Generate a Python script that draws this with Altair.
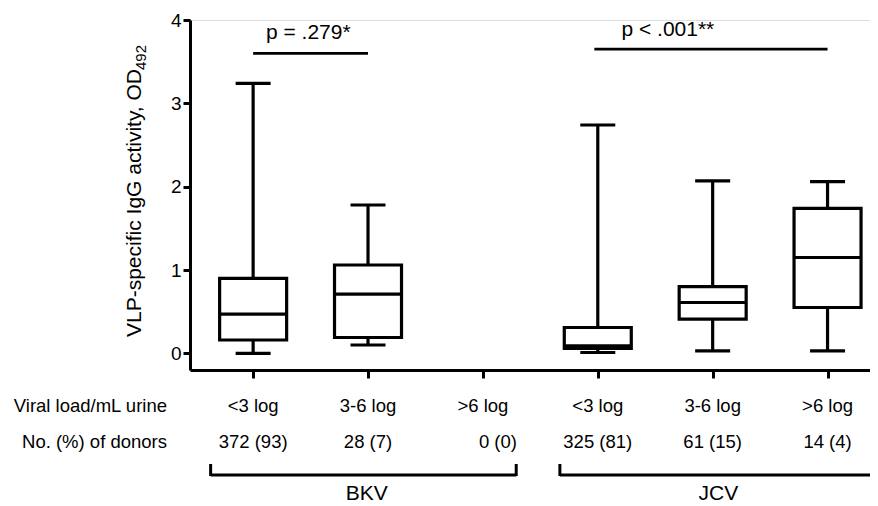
import altair as alt
import pandas as pd

FONT = "Liberation Sans"

# ---- data ----
virus = ["BKV", "BKV", "BKV", "JCV", "JCV", "JCV"]
load = ["<3 log", "3-6 log", ">6 log", "<3 log", "3-6 log", ">6 log"]
donors = ["372 (93)", "28 (7)", "0 (0)", "325 (81)", "61 (15)", "14 (4)"]
pos = [1, 2, 3, 4, 5, 6]

# box statistics (no box where there are no donors)
box_pos = [1, 2, 4, 5, 6]
w_min = [0.00, 0.10, 0.01, 0.03, 0.03]
q1 = [0.16, 0.19, 0.06, 0.41, 0.55]
med = [0.47, 0.71, 0.09, 0.61, 1.15]
q3 = [0.90, 1.06, 0.31, 0.80, 1.74]
w_max = [3.24, 1.78, 2.74, 2.07, 2.06]

# significance annotations
sig_x1 = [1, 3.97]
sig_x2 = [2, 6]
sig_y = [3.60, 3.65]
sig_text = ["p = .279*", "p < .001**"]
sig_tx = [1.48, 4.61]
sig_ty = [3.84, 3.88]

# group brackets
grp_name = ["BKV", "JCV"]
grp_x1 = [0.63, 3.67]
grp_x2 = [3.29, 6.40]
grp_tx = [1.99, 5.05]

row_titles = ["Viral load/mL urine", "No. (%) of donors"]
y_title_main = "VLP-specific IgG activity, OD"
y_title_sub = "492"

boxes = pd.DataFrame(dict(pos=box_pos, lo=w_min, q1=q1, med=med, q3=q3, hi=w_max))
cats = pd.DataFrame(dict(pos=pos, virus=virus, load=load, donors=donors))
sig = pd.DataFrame(dict(x1=sig_x1, x2=sig_x2, y=sig_y, text=sig_text, tx=sig_tx, ty=sig_ty))
grp = pd.DataFrame(dict(name=grp_name, x1=grp_x1, x2=grp_x2, tx=grp_tx))
rows = pd.DataFrame(dict(t=row_titles, r=[0, 1]))
ttl = pd.DataFrame(dict(main=[y_title_main], sub=[y_title_sub]))

xs = alt.Scale(domain=[0.494, 6.326], nice=False, zero=False)
ys = alt.Scale(domain=[-0.2, 4], nice=False, zero=False)

X = alt.X("pos:Q", scale=xs,
          axis=alt.Axis(values=pos, labels=False, title=None, grid=False,
                        tickSize=8, tickWidth=3, domainWidth=3,
                        domainColor="black", tickColor="black"))

base = alt.Chart(boxes)

whisk_lo = base.mark_rule(color="black", strokeWidth=3.2).encode(
    x=X,
    y=alt.Y("lo:Q", scale=ys,
            axis=alt.Axis(values=[0, 1, 2, 3, 4], format="d", grid=False, tickSize=7,
                          tickWidth=3, domainWidth=3, domainColor="black",
                          tickColor="black", labelFontSize=19, labelColor="black",
                          labelFont=FONT, labelPadding=2, title=None)),
    y2="q1:Q")
whisk_hi = base.mark_rule(color="black", strokeWidth=3.2).encode(
    x="pos:Q", y="q3:Q", y2="hi:Q")
box = base.mark_bar(fill="white", stroke="black", strokeWidth=3.2, size=67, opacity=1).encode(
    x="pos:Q", y="q1:Q", y2="q3:Q")
median = base.mark_tick(color="black", orient="horizontal", size=67, thickness=3.2,
                        opacity=1).encode(x="pos:Q", y="med:Q")
cap_lo = base.mark_tick(color="black", orient="horizontal", size=35, thickness=3.2,
                        opacity=1).encode(x="pos:Q", y="lo:Q")
cap_hi = base.mark_tick(color="black", orient="horizontal", size=35, thickness=3.2,
                        opacity=1).encode(x="pos:Q", y="hi:Q")

title_main = alt.Chart(ttl).mark_text(
    font=FONT, fontSize=21, color="black", angle=270, align="left",
    baseline="alphabetic").encode(x=alt.value(-49), y=alt.value(317), text="main:N")
title_sub = alt.Chart(ttl).mark_text(
    font=FONT, fontSize=15, color="black", angle=270, align="left",
    baseline="alphabetic").encode(x=alt.value(-44), y=alt.value(50), text="sub:N")

sig_rule = alt.Chart(sig).mark_rule(color="black", strokeWidth=2.8).encode(
    x="x1:Q", x2="x2:Q", y="y:Q")
sig_lab = alt.Chart(sig).mark_text(font=FONT, fontSize=21, color="black").encode(
    x="tx:Q", y="ty:Q", text="text:N")

load_lab = alt.Chart(cats).mark_text(font=FONT, fontSize=18.5, color="black").encode(
    x="pos:Q", y=alt.value(386), text="load:N")
don_lab = alt.Chart(cats).transform_filter("datum.pos != 3").mark_text(
    font=FONT, fontSize=18.5, color="black").encode(
    x="pos:Q", y=alt.value(422), text="donors:N")
don_lab3 = alt.Chart(cats).transform_filter("datum.pos == 3").mark_text(
    font=FONT, fontSize=18.5, color="black", dx=15).encode(
    x="pos:Q", y=alt.value(422), text="donors:N")
row_lab = alt.Chart(rows).transform_calculate(yy="386 + datum.r * 36").mark_text(
    font=FONT, fontSize=18.5, color="black", align="right").encode(
    x=alt.value(-23), y=alt.Y("yy:Q", scale=None), text="t:N")

br_h = alt.Chart(grp).mark_rule(color="black", strokeWidth=3).encode(
    x="x1:Q", x2="x2:Q", y=alt.value(455))
br_l = alt.Chart(grp).mark_rule(color="black", strokeWidth=3).encode(
    x="x1:Q", y=alt.value(444), y2=alt.value(456))
br_r = alt.Chart(grp).mark_rule(color="black", strokeWidth=3).encode(
    x="x2:Q", y=alt.value(444), y2=alt.value(456))
br_t = alt.Chart(grp).mark_text(font=FONT, fontSize=21, color="black").encode(
    x="tx:Q", y=alt.value(474), text="name:N")

chart = alt.layer(
    whisk_lo, whisk_hi, box, median, cap_lo, cap_hi, title_main, title_sub,
    sig_rule, sig_lab, load_lab, don_lab, don_lab3, row_lab,
    br_h, br_l, br_r, br_t
).properties(
    width=680, height=350,
    autosize=alt.AutoSizeParams(type="none"),
    padding={"left": 182, "top": 12, "right": 0, "bottom": 136},
).configure_view(stroke=None).configure(background="white")

chart.save("out.html", embed_options={"renderer": "svg", "actions": False})
